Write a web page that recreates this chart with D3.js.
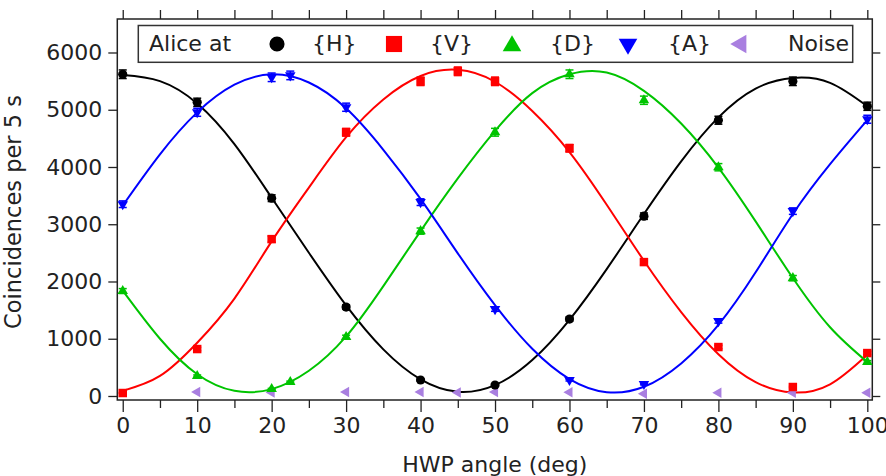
<!DOCTYPE html>
<html>
<head>
<meta charset="utf-8">
<script src="https://cdn.jsdelivr.net/npm/d3@7"></script>
<style>
  body { margin: 0; background: #fff; }
  svg { display: block; }
  text { font-family: "DejaVu Sans", sans-serif; fill: #222; }
</style>
</head>
<body>
<script>
// measured coincidences, HWP angle in degrees
const anglesH = [0, 10, 20, 30, 40, 50, 60, 70, 80, 90, 100];
const countsH = [5620, 5130, 3455, 1553, 279, 192, 1344, 3141, 4817, 5497, 5061];

const anglesV = [0, 10, 20, 30, 40, 45, 50, 60, 70, 80, 90, 100];
const countsV = [52, 820, 2740, 4607, 5497, 5672, 5497, 4328, 2339, 855, 157, 750];

const anglesD = [0, 10, 20, 22.5, 30, 40, 50, 60, 70, 80, 90, 100];
const countsD = [1833, 349, 122, 244, 1030, 2880, 4607, 5620, 5166, 3996, 2059, 593];

const anglesA = [0, 10, 20, 22.5, 30, 40, 50, 60, 70, 80, 90, 100];
const countsA = [3350, 4956, 5567, 5600, 5044, 3386, 1518, 279, 209, 1309, 3229, 4834];

const anglesNoise = [10, 20, 30, 40, 45, 50, 60, 70, 80, 90, 100];
const countsNoise = [70, 60, 70, 70, 60, 70, 65, 40, 55, 55, 55];

const fitAngles = [0, 5, 10, 15, 20, 25, 30, 35, 40, 45, 50, 55, 60, 65, 70, 75, 80, 85, 90, 95, 100];
const fitH = [5606, 5500, 5110, 4400, 3463, 2502, 1582, 814, 290, 74, 191, 628, 1331, 2217, 3178, 4098, 4866, 5370, 5555, 5470, 5061];
const fitV = [90, 350, 930, 1702, 2700, 3640, 4520, 5180, 5590, 5697, 5489, 4979, 4260, 3340, 2363, 1466, 729, 242, 61, 204, 720];
const fitD = [1840, 1000, 380, 90, 120, 440, 1040, 1920, 2880, 3800, 4630, 5290, 5620, 5650, 5330, 4760, 3990, 3050, 2060, 1200, 593];
const fitA = [3328, 4222, 4954, 5437, 5619, 5476, 5025, 4301, 3442, 2492, 1587, 824, 296, 67, 161, 569, 1241, 2160, 3180, 4050, 4820];

const xTicks = [0, 10, 20, 30, 40, 50, 60, 70, 80, 90, 100];
const yTicks = [0, 1000, 2000, 3000, 4000, 5000, 6000];
const legendLabels = ["{H}", "{V}", "{D}", "{A}", "Noise"];

const w = 886, h = 476;
const plotLeft = 117.3, plotRight = 872.3, plotTop = 19, plotBottom = 400;

const svg = d3.select("body").append("svg")
    .attr("width", w)
    .attr("height", h);

const x = d3.scaleLinear().domain([-0.73, 100.67]).range([plotLeft, plotRight]);
const y = d3.scaleLinear().domain([-70, 6585]).range([plotBottom, plotTop]);

const tri = d3.symbolTriangle;
const series = [
    { angles: anglesH, counts: countsH, fit: fitH, color: "#000000", sym: d3.symbolCircle, size: 66, lsize: 180, rot: 0 },
    { angles: anglesV, counts: countsV, fit: fitV, color: "#ff0000", sym: d3.symbolSquare, size: 72, lsize: 260, rot: 0 },
    { angles: anglesD, counts: countsD, fit: fitD, color: "#00c400", sym: tri, size: 48, lsize: 150, rot: 0 },
    { angles: anglesA, counts: countsA, fit: fitA, color: "#0000ff", sym: tri, size: 48, lsize: 150, rot: 180 }
];
const noiseColor = "#a97fe0";

// axes
const axisColor = "#222";
function styleAxis(g) {
    g.select(".domain").remove();
    g.selectAll("line").attr("stroke", axisColor).attr("stroke-width", 1.3);
    g.selectAll("text").attr("font-size", 22).attr("fill", "#222")
        .attr("font-family", "DejaVu Sans");
}

svg.append("g")
    .attr("transform", `translate(${plotLeft},0)`)
    .call(d3.axisLeft(y).tickValues(yTicks).tickSize(9).tickPadding(6).tickFormat(d3.format("d")))
    .call(styleAxis);

svg.append("g")
    .attr("transform", `translate(${plotRight},0)`)
    .call(d3.axisRight(y).tickValues(yTicks).tickSize(8).tickFormat(""))
    .call(styleAxis);

svg.append("g")
    .attr("transform", `translate(0,${plotBottom})`)
    .call(d3.axisBottom(x).tickValues(xTicks).tickSize(12).tickPadding(5).tickFormat(d3.format("d")))
    .call(styleAxis);

svg.append("g")
    .attr("transform", `translate(0,${plotBottom})`)
    .call(d3.axisBottom(x).tickValues(xTicks.slice(0, -1).map(d => d + 5)).tickSize(8).tickFormat(""))
    .call(styleAxis);

svg.append("g")
    .attr("transform", `translate(0,${plotTop})`)
    .call(d3.axisTop(x).tickValues(xTicks.concat(xTicks.slice(0, -1).map(d => d + 5))).tickSize(9).tickFormat(""))
    .call(styleAxis);

svg.append("rect")
    .attr("x", plotLeft).attr("y", plotTop)
    .attr("width", plotRight - plotLeft).attr("height", plotBottom - plotTop)
    .attr("fill", "none").attr("stroke", axisColor).attr("stroke-width", 1.5);

svg.append("text")
    .attr("x", (plotLeft + plotRight) / 2).attr("y", 472)
    .attr("text-anchor", "middle").attr("font-size", 22)
    .text("HWP angle (deg)");

svg.append("text")
    .attr("transform", "translate(21,212) rotate(-90)")
    .attr("text-anchor", "middle").attr("font-size", 22.5)
    .text("Coincidences per 5 s");

// fit curves
const line = d3.line()
    .x((d, i) => x(fitAngles[i]))
    .y(d => y(d))
    .curve(d3.curveNatural);

series.forEach(s => {
    svg.append("path")
        .datum(s.fit)
        .attr("d", line)
        .attr("fill", "none")
        .attr("stroke", s.color)
        .attr("stroke-width", 2);
});

// noise points
svg.append("g").selectAll("path")
    .data(countsNoise)
    .join("path")
    .attr("d", d3.symbol(tri, 48))
    .attr("transform", (d, i) => `translate(${x(anglesNoise[i])},${y(d)}) rotate(-90)`)
    .attr("fill", noiseColor);

// data points with error bars
series.forEach(s => {
    const g = svg.append("g");
    const pts = s.counts.map((c, i) => ({ a: s.angles[i], c: c, e: Math.sqrt(c) }));
    g.selectAll("line.bar")
        .data(pts)
        .join("line")
        .attr("x1", d => x(d.a)).attr("x2", d => x(d.a))
        .attr("y1", d => y(d.c - d.e)).attr("y2", d => y(d.c + d.e))
        .attr("stroke", s.color).attr("stroke-width", 1.5);
    [-1, 1].forEach(sign => {
        g.append("g").selectAll("line")
            .data(pts)
            .join("line")
            .attr("x1", d => x(d.a) - 4).attr("x2", d => x(d.a) + 4)
            .attr("y1", d => y(d.c + sign * d.e)).attr("y2", d => y(d.c + sign * d.e))
            .attr("stroke", s.color).attr("stroke-width", 1.5);
    });
    g.append("g").selectAll("path")
        .data(pts)
        .join("path")
        .attr("d", d3.symbol(s.sym, s.size))
        .attr("transform", d => `translate(${x(d.a)},${y(d.c)}) rotate(${s.rot})`)
        .attr("fill", s.color);
});

// legend
const legend = svg.append("g");
legend.append("rect")
    .attr("x", 138.3).attr("y", 25.5)
    .attr("width", 714.4).attr("height", 36.8)
    .attr("fill", "#fff").attr("stroke", "#333").attr("stroke-width", 1.5);

legend.append("text")
    .attr("x", 149).attr("y", 51).attr("font-size", 22)
    .text("Alice at");

const markerX = [277, 394, 512, 628, 741];
const labelX = [312, 430, 550, 668, 788];
const legendSeries = series.concat([{ color: noiseColor, sym: tri, lsize: 150, rot: -90 }]);

legendSeries.forEach((s, i) => {
    legend.append("path")
        .attr("d", d3.symbol(s.sym, s.lsize))
        .attr("transform", `translate(${markerX[i]},${s.rot === 0 && s.sym === tri ? 46 : 44}) rotate(${s.rot})`)
        .attr("fill", s.color);
    legend.append("text")
        .attr("x", labelX[i]).attr("y", 51).attr("font-size", 22)
        .text(legendLabels[i]);
});
</script>
</body>
</html>
